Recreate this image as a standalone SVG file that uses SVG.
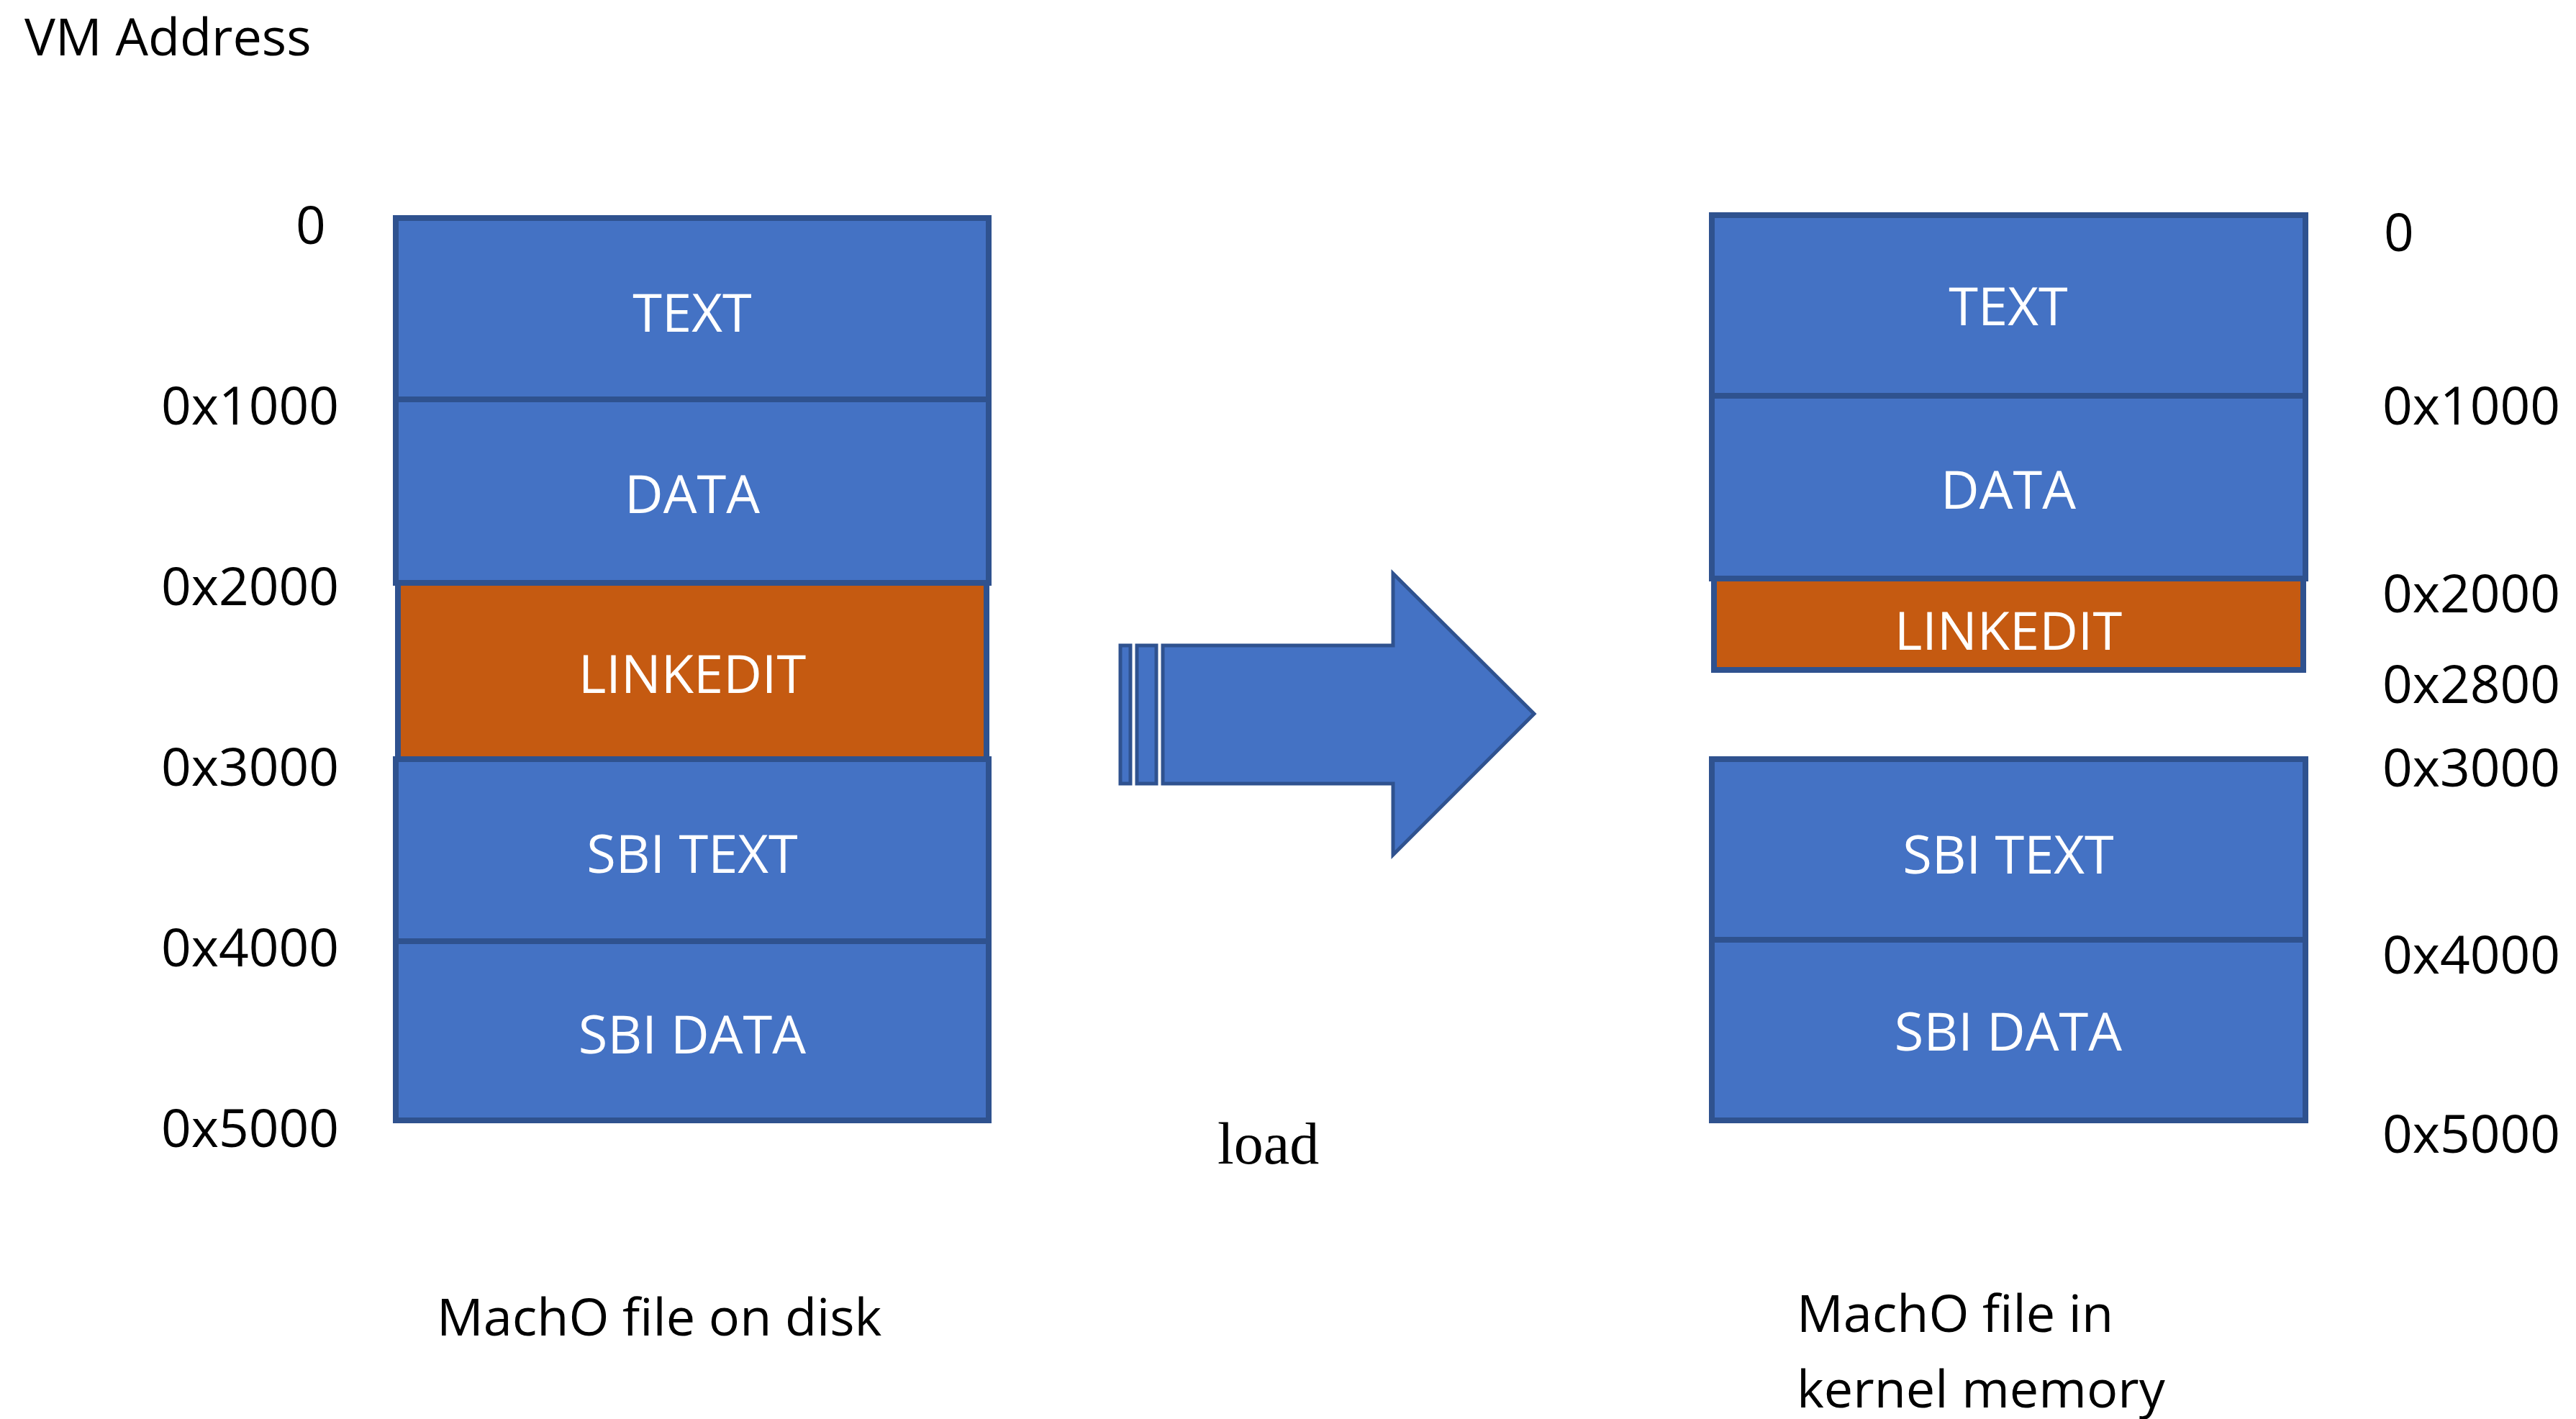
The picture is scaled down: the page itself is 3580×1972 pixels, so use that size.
<svg xmlns="http://www.w3.org/2000/svg" width="3580" height="1972" viewBox="0 0 3580 1972">
  <style>
    .seg { fill: #4472C4; stroke: #2F528F; stroke-width: 8; }
    .org { fill: #C55A11; stroke: #2F528F; stroke-width: 8; }
    .lbl { font-family: "Open Sans", "Liberation Sans", sans-serif; font-size: 74px; fill: #FFFFFF; text-anchor: middle; }
    .addr { font-family: "Open Sans", "Liberation Sans", sans-serif; font-size: 73px; fill: #000000; }
    .cap { font-family: "Open Sans", "Liberation Sans", sans-serif; font-size: 72px; fill: #000000; }
    .arrow { fill: #4472C4; stroke: #2F528F; stroke-width: 5; }
  </style>
  <rect width="3580" height="1972" fill="#FFFFFF"/>

  <text class="cap" x="34" y="77" font-size="74">VM Address</text>

  <!-- left address labels -->
  <g id="left-addresses">
    <text class="addr" x="411" y="339">0</text>
    <text class="addr" x="224" y="590">0x1000</text>
    <text class="addr" x="224" y="841">0x2000</text>
    <text class="addr" x="224" y="1092">0x3000</text>
    <text class="addr" x="224" y="1343">0x4000</text>
    <text class="addr" x="224" y="1594">0x5000</text>
  </g>

  <!-- left stack: MachO file on disk -->
  <g id="disk-text"><rect class="seg" x="550" y="303" width="824" height="252"/><text class="lbl" x="962" y="461">TEXT</text></g>
  <g id="disk-data"><rect class="seg" x="550" y="555" width="824" height="255"/><text class="lbl" x="962" y="713">DATA</text></g>
  <g id="disk-linkedit"><rect class="org" x="553" y="810" width="818" height="245"/><text class="lbl" x="962" y="963">LINKEDIT</text></g>
  <g id="disk-sbi-text"><rect class="seg" x="550" y="1055" width="824" height="253"/><text class="lbl" x="962" y="1213">SBI TEXT</text></g>
  <g id="disk-sbi-data"><rect class="seg" x="550" y="1308" width="824" height="249"/><text class="lbl" x="962" y="1464">SBI DATA</text></g>

  <!-- right stack: MachO file in kernel memory -->
  <g id="mem-text"><rect class="seg" x="2379" y="299" width="825" height="251"/><text class="lbl" x="2791" y="452">TEXT</text></g>
  <g id="mem-data"><rect class="seg" x="2379" y="550" width="825" height="254"/><text class="lbl" x="2791" y="707">DATA</text></g>
  <g id="mem-linkedit"><rect class="org" x="2382" y="804" width="819" height="127"/><text class="lbl" x="2791" y="903">LINKEDIT</text></g>
  <g id="mem-sbi-text"><rect class="seg" x="2379" y="1055" width="825" height="251"/><text class="lbl" x="2791" y="1214">SBI TEXT</text></g>
  <g id="mem-sbi-data"><rect class="seg" x="2379" y="1306" width="825" height="251"/><text class="lbl" x="2791" y="1460">SBI DATA</text></g>

  <!-- right address labels -->
  <g id="right-addresses">
    <text class="addr" x="3313" y="349">0</text>
    <text class="addr" x="3311" y="590">0x1000</text>
    <text class="addr" x="3311" y="851">0x2000</text>
    <text class="addr" x="3311" y="977">0x2800</text>
    <text class="addr" x="3311" y="1093">0x3000</text>
    <text class="addr" x="3311" y="1353">0x4000</text>
    <text class="addr" x="3311" y="1602">0x5000</text>
  </g>

  <!-- connector: striped load arrow -->
  <g id="connectors">
    <rect class="arrow" x="1557" y="897" width="14" height="192"/>
    <rect class="arrow" x="1580" y="897" width="27" height="192"/>
    <path class="arrow" d="M1616,897 H1936 V797 L2132,992 L1936,1188 V1089 H1616 Z"/>
    <text x="1692" y="1617" font-family="'Liberation Serif', 'Times New Roman', serif" font-size="82" fill="#000000">load</text>
  </g>

  <text class="cap" x="607" y="1856">MachO file on disk</text>
  <text class="cap" x="2497" y="1851">MachO file in</text>
  <text class="cap" x="2497" y="1956">kernel memory</text>
</svg>
